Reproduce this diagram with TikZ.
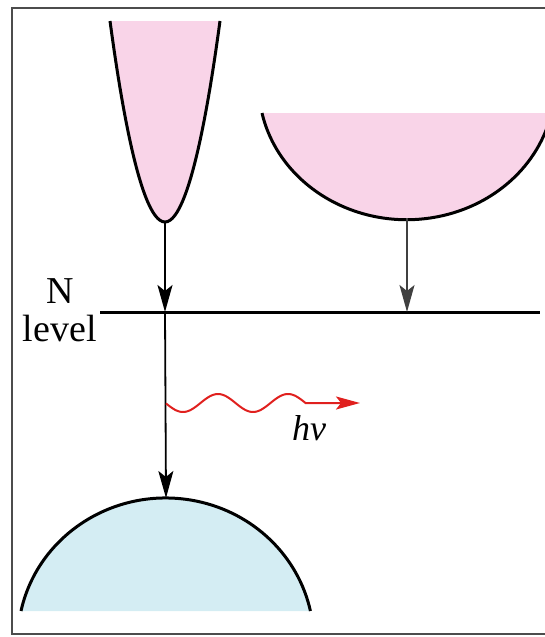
\documentclass[tikz,border=0pt]{standalone}
\usepackage{fontspec}
\setmainfont{Liberation Serif}
\newfontfamily\timesfont{Liberation Serif}
\usetikzlibrary{arrows.meta}
\definecolor{pinkfill}{HTML}{F9D4E8}
\definecolor{bluefill}{HTML}{D4EDF3}
\definecolor{wavered}{HTML}{E0201E}
\tikzset{
  band/.style={draw=black, line width=3pt},
  transition/.style={draw=black, line width=1.8pt, -{Stealth[length=27pt,width=15pt,inset=6pt]}},
  graytrans/.style={draw=black!75, line width=1.6pt, -{Stealth[length=27pt,width=15pt,inset=6pt]}},
  photon/.style={draw=wavered, line width=2pt, -{Stealth[length=24pt,width=13pt,inset=5pt]}},
  lbl/.style={font=\timesfont\fontsize{38}{38}\selectfont, inner sep=0pt}
}
\begin{document}
\begin{tikzpicture}[x=1pt,y=-1pt]
\useasboundingbox (0,0) rectangle (545,637);
% frame
\draw[black!70, line width=2pt] (12,8) rectangle (560,634);
% narrow conduction band (left)
\fill[pinkfill] (110,21) parabola bend (165,222) (220,21) -- cycle;
\draw[band] (110,21) parabola bend (165,222) (220,21);
\coordinate (cb1) at (165,222);
% wide conduction band (right)
\fill[pinkfill] (262,113) arc[start angle=192.1, end angle=347.9, x radius=148, y radius=-135] -- cycle;
\draw[band] (262,113) arc[start angle=192.1, end angle=347.9, x radius=148, y radius=-135];
\coordinate (cb2) at (407,218);
% valence band (bottom)
\fill[bluefill] (21,611) arc[start angle=167.9, end angle=12.1, x radius=148, y radius=-143] -- cycle;
\draw[band] (21,611) arc[start angle=167.9, end angle=12.1, x radius=148, y radius=-143];
\coordinate (vb) at (166,498);
% N level
\coordinate (nl0) at (100,312);
\coordinate (nl1) at (540,312);
\draw[line width=3pt] (nl0) -- (nl1);
\coordinate (n1) at (165,312);
\coordinate (n2) at (407,312);
\node[lbl, align=center, anchor=east] (nlabel) at (97,310) {N\\level};
% transitions
\draw[transition] (cb1) -- (n1);
\draw[graytrans] (cb2) -- (n2);
\draw[transition] (n1) -- (vb);
% photon
\coordinate (ph0) at (166,403);
\coordinate (ph1) at (360,403);
\draw[photon] plot[domain=166:305.5, samples=80, smooth] (\x, {403 - 9*sin(5.142857*(\x-218) + 90)}) -- (ph1);
\node[font=\timesfont\fontsize{36}{36}\selectfont\itshape, inner sep=0pt] (hv) at (309,428) {hν};
\end{tikzpicture}
\end{document}
